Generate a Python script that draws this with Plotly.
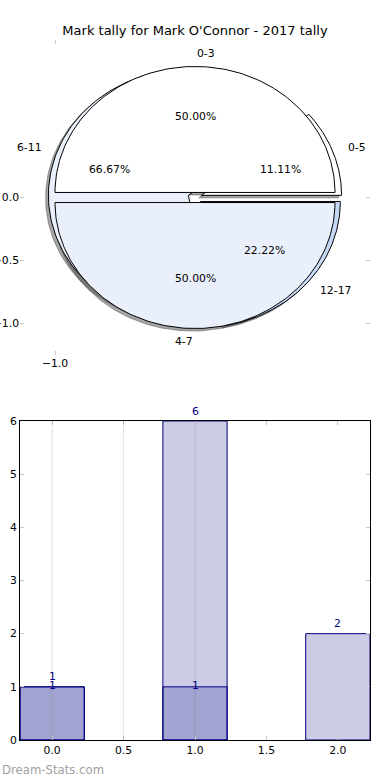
import numpy as np
import plotly.graph_objects as go

# ---------------- data ----------------
title_text = "Mark tally for Mark O'Connor - 2017 tally"

# pie drawn on top (two halves)
top_pie_labels = ["0-3", "4-7"]
top_pie_values = [1, 1]
top_pie_colors = ["#ffffff", "#eaf0fb"]
top_pie_explode = [0.04, 0.04]

# pie drawn underneath
under_pie_labels = ["0-5", "6-11", "12-17"]
under_pie_values = [1, 6, 2]
under_pie_colors = ["#ffffff", "#eaf0fb", "#c6d8f6"]
under_pie_explode = [0.05, 0.05, 0.05]

pie_y_ticks = [0.0, -0.5, -1.0]
pie_x_ticks = [-1.0]

bar_categories = [0, 1, 2]
bar_light_values = [1, 6, 2]
bar_dark_categories = [0, 1]
bar_dark_values = [1, 1]
bar_x_ticks = [0.0, 0.5, 1.0, 1.5, 2.0]
bar_grid_x = [0.0, 0.5, 1.0]
bar_y_ticks = [0, 1, 2, 3, 4, 5, 6]

FONT = "DejaVu Sans"
W, H = 390, 780


def px_x(p):
    return p / W


def px_y(p):
    return 1 - p / H


fig = go.Figure()


def wedges(values, explode):
    total = float(sum(values))
    out = []
    start = 0.0
    for v, e in zip(values, explode):
        span = 360.0 * v / total
        t1, t2 = start, start + span
        mid = np.radians((t1 + t2) / 2)
        cx, cy = e * np.cos(mid), e * np.sin(mid)
        ts = np.radians(np.linspace(t1, t2, 160))
        xs = np.concatenate([[cx], cx + np.cos(ts), [cx]])
        ys = np.concatenate([[cy], cy + np.sin(ts), [cy]])
        out.append((xs, ys, mid, cx, cy, v / total))
        start = t2
    return out


under = wedges(under_pie_values, under_pie_explode)
top = wedges(top_pie_values, top_pie_explode)

# shadows (below all wedges)
for w in under + top:
    xs, ys = w[0], w[1]
    fig.add_trace(go.Scatter(x=xs - 0.02, y=ys - 0.02, mode="lines", fill="toself",
                             fillcolor="rgba(77,77,77,0.5)",
                             line=dict(color="rgba(77,77,77,0.5)", width=1),
                             hoverinfo="skip", showlegend=False, xaxis="x", yaxis="y"))

for group, colors in ((under, under_pie_colors), (top, top_pie_colors)):
    for w, c in zip(group, colors):
        fig.add_trace(go.Scatter(x=w[0], y=w[1], mode="lines", fill="toself",
                                 fillcolor=c, line=dict(color="black", width=1),
                                 hoverinfo="skip", showlegend=False, xaxis="x", yaxis="y"))

annotations = []
for group, labels in ((under, under_pie_labels), (top, top_pie_labels)):
    for w, lab in zip(group, labels):
        mid, cx, cy, frac = w[2], w[3], w[4], w[5]
        lx = cx + 1.1 * np.cos(mid)
        ly = cy + 1.1 * np.sin(mid)
        annotations.append(dict(x=lx, y=ly, xref="x", yref="y", text=lab, showarrow=False,
                                xanchor="left" if lx > 0 else "right", yanchor="middle",
                                font=dict(family=FONT, size=10.8, color="black")))
        annotations.append(dict(x=cx + 0.6 * np.cos(mid), y=cy + 0.6 * np.sin(mid),
                                xref="x", yref="y", text="%.2f%%" % (frac * 100),
                                showarrow=False, xanchor="center", yanchor="middle",
                                font=dict(family=FONT, size=10.8, color="black")))

# ---------------- bars ----------------
fig.add_trace(go.Bar(x=bar_categories, y=bar_light_values, width=0.45,
                     marker=dict(color="rgba(0,0,128,0.2)", line=dict(color="#000080", width=1)),
                     xaxis="x2", yaxis="y2", showlegend=False, hoverinfo="skip"))
fig.add_trace(go.Bar(x=bar_dark_categories, y=bar_dark_values, width=0.45,
                     marker=dict(color="rgba(0,0,128,0.2)", line=dict(color="#000080", width=1)),
                     xaxis="x2", yaxis="y2", showlegend=False, hoverinfo="skip"))

for xv, yv in zip(bar_categories, bar_light_values):
    annotations.append(dict(x=xv, y=yv, xref="x2", yref="y2", text=str(yv), showarrow=False,
                            yshift=10, yanchor="middle",
                            font=dict(family=FONT, size=10.8, color="#000080")))
for xv, yv in zip(bar_dark_categories, bar_dark_values):
    annotations.append(dict(x=xv, y=yv, xref="x2", yref="y2", text=str(yv), showarrow=False,
                            yshift=1, yanchor="middle",
                            font=dict(family=FONT, size=10.8, color="#000080")))

shapes = []
for gx in bar_grid_x:
    shapes.append(dict(type="line", xref="x2", yref="y2 domain", x0=gx, x1=gx, y0=0, y1=1,
                       line=dict(color="rgba(110,110,110,0.4)", width=1, dash="1px,1px"),
                       layer="above"))

annotations.append(dict(x=0, y=px_y(770), xref="paper", yref="paper", text="Dream-Stats.com",
                        showarrow=False, xanchor="left", yanchor="middle",
                        font=dict(family=FONT, size=11.7, color="#a0a0a0")))

tick_common = dict(ticks="inside", ticklen=4, tickcolor="#c8c8c8", tickwidth=1,
                   showgrid=False, zeroline=False, automargin=False, fixedrange=True,
                   tickfont=dict(family=FONT, size=10.8, color="black"))

fig.update_layout(
    width=W, height=H,
    margin=dict(l=0, r=0, t=0, b=0),
    paper_bgcolor="white", plot_bgcolor="rgba(0,0,0,0)",
    template="none",
    barmode="overlay",
    showlegend=False,
    title=dict(text=title_text, x=0.5, xanchor="center", y=px_y(30), yanchor="middle",
               font=dict(family=FONT, size=13, color="black")),
    xaxis=dict(domain=[px_x(20), px_x(370)], range=[-1.25, 1.25], anchor="y",
               tickvals=pie_x_ticks, tickformat=".1f", showline=False, mirror="ticks",
               **tick_common),
    yaxis=dict(domain=[px_y(355), px_y(40)], range=[-1.25, 1.25], anchor="x",
               tickvals=pie_y_ticks, tickformat=".1f", showline=False, mirror="ticks",
               **tick_common),
    xaxis2=dict(domain=[px_x(20), px_x(370)], range=[-0.225, 2.225], anchor="y2",
                tickvals=bar_x_ticks, tickformat=".1f", showline=True, linecolor="black",
                linewidth=1, mirror="ticks", **tick_common),
    yaxis2=dict(domain=[px_y(740), px_y(421)], range=[0, 6], anchor="x2",
                tickvals=bar_y_ticks, showline=True, linecolor="black",
                linewidth=1, mirror="ticks", **tick_common),
    annotations=annotations,
    shapes=shapes,
    font=dict(family=FONT),
)

fig.write_html("out.html", config={"displayModeBar": False},
               post_script="document.body.style.margin='0';document.body.style.overflow='hidden';")
